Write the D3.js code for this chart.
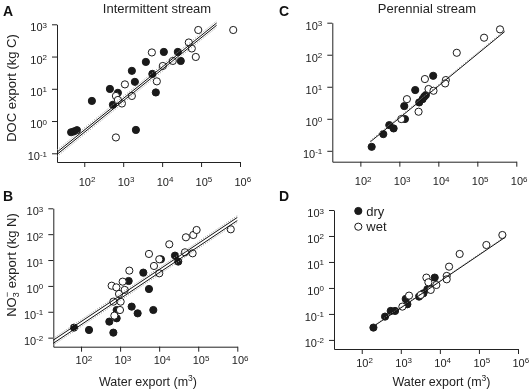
<!DOCTYPE html>
<html>
<head>
<meta charset="utf-8">
<script src="https://cdn.jsdelivr.net/npm/d3@7"></script>
<style>
  body { margin: 0; background: #fff; }
  svg { font-family: "Liberation Sans", Arial, Helvetica, sans-serif; color: #222; will-change: transform; }
  svg text { -webkit-font-smoothing: antialiased; }
</style>
</head>
<body>
<svg id="chart" width="529" height="391"></svg>
<script>
// tick values
const waterTicks = [1e2, 1e3, 1e4, 1e5, 1e6];
const docTicks = [1e-1, 1, 1e1, 1e2, 1e3];
const no3Ticks = [1e-2, 1e-1, 1, 1e1, 1e2, 1e3];

// [water export (m3), solute export (kg)]
const intDocDry = [[46, 0.45], [55, 0.48], [65, 0.52], [157, 4.2], [545, 3.2], [456, 9.9], [731, 7.5],
  [1670, 36], [1995, 16.4], [3820, 68], [5610, 29], [6890, 7.7], [2120, 0.53], [11070, 139], [25300, 139], [30100, 73]];
const intDocWet = [[1107, 13.7], [650, 6.0], [927, 3.5], [1670, 6.0], [650, 0.31], [5450, 134], [7310, 17],
  [10400, 51], [18800, 73], [48400, 273], [57800, 178], [73200, 97], [84700, 666], [670000, 666], [731, 4.5]];

const intNo3Dry = [[66, 0.0244], [160, 0.0198], [530, 0.0416], [672, 0.0156], [817, 0.056], [817, 0.117],
  [1655, 1.55], [1977, 0.158], [2813, 0.087], [3930, 3.26], [5480, 0.76], [7080, 0.117], [11100, 10.7], [25400, 14.8], [30800, 8.7]];
const intNo3Wet = [[608, 1.02], [671, 0.246], [713, 0.071], [938, 0.49], [993, 0.117], [1163, 1.46], [1722, 3.9],
  [1033, 0.246], [1310, 0.70], [802, 0.88], [5480, 17.2], [7360, 5.9], [10070, 10.7], [10070, 3.07], [18150, 40.6],
  [48400, 75.7], [74600, 93], [90800, 145], [45700, 19.9], [71800, 18.2], [680000, 154]];

const perDocDry = [[195, 0.133], [387, 0.332], [552, 0.634], [713, 0.5], [1336, 2.49], [1391, 0.98], [2554, 7.9],
  [3230, 3.24], [3940, 4.1], [4790, 5.5], [4350, 4.9], [7380, 22]];
const perDocWet = [[1120, 0.98], [1563, 4.1], [3110, 1.66], [4520, 17.4], [5600, 8.5], [7520, 7.5], [15560, 16.2],
  [14960, 12.7], [29700, 115], [149000, 340], [382000, 619]];

const perNo3Dry = [[199, 0.0298], [395, 0.0789], [552, 0.13], [713, 0.13], [1336, 0.378], [1473, 0.235], [2930, 0.464],
  [3780, 0.62], [4790, 0.89], [5500, 1.03], [7380, 2.5]];
const perNo3Wet = [[1097, 0.191], [1626, 0.507], [3235, 0.538], [4520, 2.5], [5080, 1.65], [5830, 0.84], [8130, 1.3],
  [14960, 2.9], [14960, 2.15], [17200, 6.6], [32100, 20.3], [155000, 45], [398000, 109]];

// log10(y) = a + b*log10(x); offsets (log units) for the band lines
const fitA = {a: -2.27, b: 0.977, from: 20, to: 251000, solid: [-0.035, 0.035], dotted: [-0.1, 0.1]};
const fitB = {a: -3.456, b: 1.007, from: 19.5, to: 1e6, solid: [-0.06, 0.06], dotted: [-0.13, 0.13]};
const fitC = {a: -2.97, b: 0.998, from: 180, to: 504000, solid: [0], dotted: [0.04]};
const fitD = {a: -3.823, b: 1.018, from: 228, to: 456000, solid: [0], dotted: [0.03]};

const panels = [
  {letter: "A", lx: 3, ly: 16, title: "Intermittent stream", tx: 157, left: 57, right: 240, top: 24.3, bottom: 162, xPad: 11,
   xMin: 10 ** 1.3, yMin: 10 ** -1.27, yTicks: docTicks, dry: intDocDry, wet: intDocWet, fit: fitA},
  {letter: "C", lx: 279, ly: 16, title: "Perennial stream", tx: 427, left: 332.3, right: 516.3, top: 22.7, bottom: 161.7, xPad: 11,
   xMin: 10 ** 1.28, yMin: 10 ** -1.34, yTicks: docTicks, dry: perDocDry, wet: perDocWet, fit: fitC},
  {letter: "B", lx: 3, ly: 201, left: 53.3, right: 237.3, top: 208.3, bottom: 346.7, xPad: 5,
   xMin: 10 ** 1.29, yMin: 10 ** -2.35, yTicks: no3Ticks, dry: intNo3Dry, wet: intNo3Wet, fit: fitB},
  {letter: "D", lx: 279, ly: 201, left: 334, right: 518, top: 210, bottom: 349, xPad: 5,
   xMin: 10 ** 1.29, yMin: 10 ** -2.35, yTicks: no3Ticks, dry: perNo3Dry, wet: perNo3Wet, fit: fitD, legend: true}
];

const svg = d3.select("#chart");

function powerLabel(text) {
  const d = text.datum();
  const e = Math.round(Math.log10(d));
  text.text(null);
  text.append("tspan").text("10");
  text.append("tspan").attr("dy", "-0.45em").attr("font-size", "8px").text(e);
}

panels.forEach(p => {
  const x = d3.scaleLog().domain([p.xMin, 1e6]).range([p.left, p.right]);
  const y = d3.scaleLog().domain([p.yMin, 1e3]).range([p.bottom, p.top]);
  const g = svg.append("g");

  // axes
  const yAxis = g.append("g")
    .attr("transform", "translate(" + p.left + ",0)")
    .call(d3.axisLeft(y).tickValues(p.yTicks).tickSizeInner(5).tickSizeOuter(0).tickPadding(5));
  yAxis.selectAll(".tick text").attr("dy", "0.6em").attr("font-size", "11px").each(function() { powerLabel(d3.select(this)); });

  const xAxis = g.append("g")
    .attr("transform", "translate(0," + p.bottom + ")")
    .call(d3.axisBottom(x).tickValues(waterTicks).tickSizeInner(5).tickSizeOuter(0).tickPadding(p.xPad));
  xAxis.selectAll(".tick text").attr("font-size", "11px").attr("text-anchor", "start").attr("x", -6)
    .each(function() { powerLabel(d3.select(this)); });

  [yAxis, xAxis].forEach(a => {
    a.attr("font-family", null).attr("color", "#222");
    a.selectAll("path, line").attr("stroke", "#222");
    a.selectAll("text").attr("fill", "#222").style("fill", "#222");
  });

  // points
  const drawPts = (data, fill) => g.append("g").selectAll("circle")
    .data(data).join("circle")
    .attr("cx", d => x(d[0]))
    .attr("cy", d => y(d[1]))
    .attr("r", 3.6)
    .attr("fill", fill)
    .attr("stroke", "#1a1a1a")
    .attr("stroke-width", 1);
  drawPts(p.dry, "#1a1a1a");
  drawPts(p.wet, "#fff");

  // fitted lines
  const f = p.fit;
  const line = d3.line().x(d => x(d[0])).y(d => y(d[1]));
  const ends = off => [f.from, f.to].map(v => [v, 10 ** (f.a + off + f.b * Math.log10(v))]);
  f.dotted.forEach(off => {
    g.append("path").attr("d", line(ends(off))).attr("fill", "none")
      .attr("stroke", "#9a9a9a").attr("stroke-width", 1).attr("stroke-dasharray", "1,1.5");
  });
  f.solid.forEach(off => {
    g.append("path").attr("d", line(ends(off))).attr("fill", "none")
      .attr("stroke", "#111").attr("stroke-width", 1);
  });

  // panel letter and title
  svg.append("text").attr("x", p.lx).attr("y", p.ly)
    .attr("font-size", "14px").attr("font-weight", "bold").attr("fill", "#111").text(p.letter);
  if (p.title) {
    svg.append("text").attr("x", p.tx).attr("y", 12.5)
      .attr("text-anchor", "middle").attr("font-size", "13px").attr("fill", "#222").text(p.title);
  }

  if (p.legend) {
    const items = [["dry", "#1a1a1a"], ["wet", "#fff"]];
    const lg = svg.append("g").attr("transform", "translate(358.3,211)");
    items.forEach((it, i) => {
      lg.append("circle").attr("cx", 0).attr("cy", i * 15.7).attr("r", 3.6)
        .attr("fill", it[1]).attr("stroke", "#1a1a1a");
      lg.append("text").attr("x", 8).attr("y", i * 15.7).attr("dy", "0.35em")
        .attr("font-size", "13px").attr("fill", "#222").text(it[0]);
    });
  }
});

// y axis labels
svg.append("text")
  .attr("transform", "translate(16,88) rotate(-90)")
  .attr("text-anchor", "middle").attr("font-size", "13px").attr("fill", "#222")
  .text("DOC export (kg C)");

const no3 = svg.append("text")
  .attr("transform", "translate(16,265) rotate(-90)")
  .attr("text-anchor", "middle").attr("font-size", "13px").attr("fill", "#222");
no3.append("tspan").text("NO");
no3.append("tspan").attr("font-size", "9px").attr("dy", "3px").text("3");
no3.append("tspan").attr("font-size", "9px").attr("dx", "-5px").attr("dy", "-9px").text("−");
no3.append("tspan").attr("dy", "6px").text("  export (kg N)");

// x axis labels
[148, 441.5].forEach(cx => {
  const t = svg.append("text").attr("x", cx).attr("y", 386)
    .attr("text-anchor", "middle").attr("font-size", "12.5px").attr("fill", "#222");
  t.append("tspan").text("Water export (m");
  t.append("tspan").attr("font-size", "8.5px").attr("dy", "-5px").text("3");
  t.append("tspan").attr("dy", "5px").text(")");
});
</script>
</body>
</html>
